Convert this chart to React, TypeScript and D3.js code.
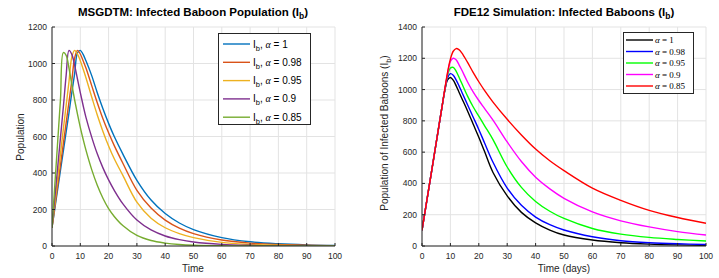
import { scaleLinear, line, curveCatmullRom, range } from "d3";

// time grid (days) used by the MSGDTM panel
const timeLeft = [0, 1, 2, 3, 4, 5, 6, 7, 8, 9, 10, 11, 12, 14, 16, 18, 20, 22, 25, 30, 35, 40, 45, 50, 60, 70, 80, 90, 100];
const msgA1 = [100, 205, 310, 415, 520, 625, 730, 840, 945, 1058, 1072, 1050, 1015, 935, 840, 752, 672, 600, 505, 360, 252, 178, 126, 90, 46, 23, 12, 6, 3];
const msgA098 = [100, 215, 330, 445, 560, 675, 790, 905, 1030, 1072, 1052, 1015, 975, 880, 785, 697, 620, 550, 455, 305, 208, 142, 98, 68, 33, 16, 8, 4, 2];
const msgA095 = [100, 235, 370, 505, 640, 770, 900, 1035, 1072, 1052, 1015, 970, 922, 818, 718, 628, 548, 478, 388, 240, 152, 100, 68, 46, 20, 9, 4, 2, 1];
const msgA09 = [100, 265, 430, 595, 760, 935, 1072, 1050, 990, 915, 840, 770, 705, 598, 505, 428, 362, 305, 232, 142, 88, 55, 35, 22, 9, 4, 2, 1, 0.5];
const msgA085 = [100, 335, 570, 805, 1060, 1045, 975, 885, 800, 722, 650, 585, 525, 420, 333, 262, 205, 162, 112, 58, 30, 16, 8, 4, 1, 0.5, 0.3, 0.2, 0.1];

// time grid (days) used by the FDE12 panel
const timeRight = [0, 1, 2, 3, 4, 5, 6, 7, 8, 9, 10, 11, 12, 13, 14, 16, 18, 20, 22, 25, 30, 35, 40, 45, 50, 60, 70, 80, 90, 100];
const fdeA1 = [100, 212, 324, 436, 548, 660, 772, 884, 990, 1062, 1077, 1060, 1025, 985, 945, 865, 780, 695, 605, 470, 320, 215, 148, 102, 70, 38, 21, 12, 7, 4];
const fdeA098 = [100, 212, 324, 436, 548, 660, 772, 884, 993, 1075, 1102, 1092, 1062, 1025, 985, 905, 825, 745, 660, 535, 370, 260, 185, 136, 102, 59, 34, 21, 14, 10];
const fdeA095 = [100, 212, 324, 436, 548, 660, 772, 884, 995, 1090, 1138, 1142, 1118, 1080, 1040, 960, 890, 830, 770, 680, 505, 375, 285, 222, 176, 112, 76, 55, 42, 32];
const fdeA09 = [100, 212, 324, 436, 548, 660, 772, 884, 998, 1100, 1180, 1200, 1190, 1160, 1125, 1050, 985, 930, 880, 805, 665, 540, 440, 365, 305, 218, 161, 122, 92, 70];
const fdeA085 = [100, 212, 324, 436, 548, 660, 772, 884, 1000, 1110, 1195, 1245, 1262, 1255, 1235, 1175, 1110, 1050, 995, 920, 810, 710, 620, 545, 482, 370, 292, 228, 182, 145];

const alphaLabels = ["1", "0.98", "0.95", "0.9", "0.85"];
const leftColors = ["#0072BD", "#D95319", "#EDB120", "#7E2F8E", "#77AC30"];
const rightColors = ["#000000", "#0000FF", "#00FF00", "#FF00FF", "#FF0000"];

const W = 719;
const H = 278;
const sans = "'Liberation Sans', Arial, sans-serif";
const serif = "'Liberation Serif', 'DejaVu Serif', serif";
const axisColor = "#262626";
const gridColor = "#e3e3e3";

type PanelProps = {
  x0: number;
  x1: number;
  yMax: number;
  time: number[];
  series: number[][];
  colors: string[];
  id: string;
};

const Panel = ({ x0, x1, yMax, time, series, colors, id }: PanelProps) => {
  const top = 27;
  const bottom = 246;
  const x = scaleLinear().domain([0, 100]).range([x0, x1]);
  const y = scaleLinear().domain([0, yMax]).range([bottom, top]);
  const xTicks = range(0, 101, 10);
  const yTicks = range(0, yMax + 1, 200);
  const path = line<number>()
    .x((_, i) => x(time[i]))
    .y((d) => y(d))
    .curve(curveCatmullRom.alpha(0.5));

  return (
    <g>
      <defs>
        <clipPath id={id}>
          <rect x={x0} y={top - 2} width={x1 - x0} height={bottom - top + 2} />
        </clipPath>
      </defs>
      {xTicks.map((t) => (
        <line key={"gx" + t} x1={x(t)} x2={x(t)} y1={top} y2={bottom} stroke={gridColor} strokeWidth={1} />
      ))}
      {yTicks.map((t) => (
        <line key={"gy" + t} x1={x0} x2={x1} y1={y(t)} y2={y(t)} stroke={gridColor} strokeWidth={1} />
      ))}
      <g clipPath={`url(#${id})`}>
        {series.map((s, i) => (
          <path key={i} d={path(s)!} fill="none" stroke={colors[i]} strokeWidth={1.4} />
        ))}
      </g>
      <line x1={x0} x2={x0} y1={top} y2={bottom} stroke={axisColor} strokeWidth={1} />
      <line x1={x0} x2={x1} y1={bottom} y2={bottom} stroke={axisColor} strokeWidth={1} />
      {xTicks.map((t) => (
        <g key={"tx" + t}>
          <line x1={x(t)} x2={x(t)} y1={bottom} y2={bottom - 3} stroke={axisColor} />
          <text x={x(t)} y={259} textAnchor="middle" fontFamily={sans} fontSize={8.5} fill={axisColor}>
            {t}
          </text>
        </g>
      ))}
      {yTicks.map((t) => (
        <g key={"ty" + t}>
          <line x1={x0} x2={x0 + 3} y1={y(t)} y2={y(t)} stroke={axisColor} />
          <text x={x0 - 5} y={y(t) + 3} textAnchor="end" fontFamily={sans} fontSize={8.5} fill={axisColor}>
            {t}
          </text>
        </g>
      ))}
    </g>
  );
};

const App = () => {
  const leftSeries = [msgA1, msgA098, msgA095, msgA09, msgA085];
  const rightSeries = [fdeA1, fdeA098, fdeA095, fdeA09, fdeA085];

  return (
    <svg width={W} height={H} style={{ position: "absolute", left: 0, top: 0, background: "#fff" }}>
      <Panel x0={52} x1={335} yMax={1200} time={timeLeft} series={leftSeries} colors={leftColors} id="clipL" />
      <Panel x0={422} x1={706} yMax={1400} time={timeRight} series={rightSeries} colors={rightColors} id="clipR" />

      {/* titles */}
      <text x={193} y={16} textAnchor="middle" fontFamily={sans} fontSize={11.5} fontWeight="bold" fill="#000">
        MSGDTM: Infected Baboon Population (I<tspan dy={3} fontSize={8.5}>b</tspan>
        <tspan dy={-3}>)</tspan>
      </text>
      <text x={564} y={16} textAnchor="middle" fontFamily={sans} fontSize={11.5} fontWeight="bold" fill="#000">
        FDE12 Simulation: Infected Baboons (I<tspan dy={3} fontSize={8.5}>b</tspan>
        <tspan dy={-3}>)</tspan>
      </text>

      {/* axis labels */}
      <text x={193} y={272} textAnchor="middle" fontFamily={sans} fontSize={10} fill={axisColor}>
        Time
      </text>
      <text x={564} y={272} textAnchor="middle" fontFamily={sans} fontSize={10} fill={axisColor}>
        Time (days)
      </text>
      <text transform="translate(24,137) rotate(-90)" textAnchor="middle" fontFamily={sans} fontSize={10} fill={axisColor}>
        Population
      </text>
      <text transform="translate(388,133) rotate(-90)" textAnchor="middle" fontFamily={sans} fontSize={10} fill={axisColor}>
        Population of Infected Baboons (I<tspan dy={3} fontSize={7.5}>b</tspan>
        <tspan dy={-3}>)</tspan>
      </text>

      {/* left legend */}
      <rect x={218.5} y={33.5} width={92} height={91} fill="#fff" stroke={axisColor} strokeWidth={1} />
      {alphaLabels.map((a, i) => {
        const ly = 44 + i * 18.3;
        return (
          <g key={"ll" + a}>
            <line x1={223} x2={250} y1={ly} y2={ly} stroke={leftColors[i]} strokeWidth={1.4} />
            <text x={253} y={ly + 3.5} fontFamily={sans} fontSize={10} fill="#000">
              I<tspan dy={3} fontSize={7.5}>b</tspan>
              <tspan dy={-3}>, </tspan>
              <tspan fontFamily={serif} fontStyle="italic">α</tspan>
              <tspan> = {a}</tspan>
            </text>
          </g>
        );
      })}

      {/* right legend */}
      <rect x={623.5} y={32.5} width={70} height={61} fill="#fff" stroke={axisColor} strokeWidth={1} />
      {alphaLabels.map((a, i) => {
        const ly = 40 + i * 11.5;
        return (
          <g key={"rl" + a}>
            <line x1={626} x2={653} y1={ly} y2={ly} stroke={rightColors[i]} strokeWidth={1.4} />
            <text x={655} y={ly + 3} fontFamily={serif} fontSize={9} fill="#000">
              <tspan fontStyle="italic">α</tspan> = {a}
            </text>
          </g>
        );
      })}
    </svg>
  );
};

export default App;
